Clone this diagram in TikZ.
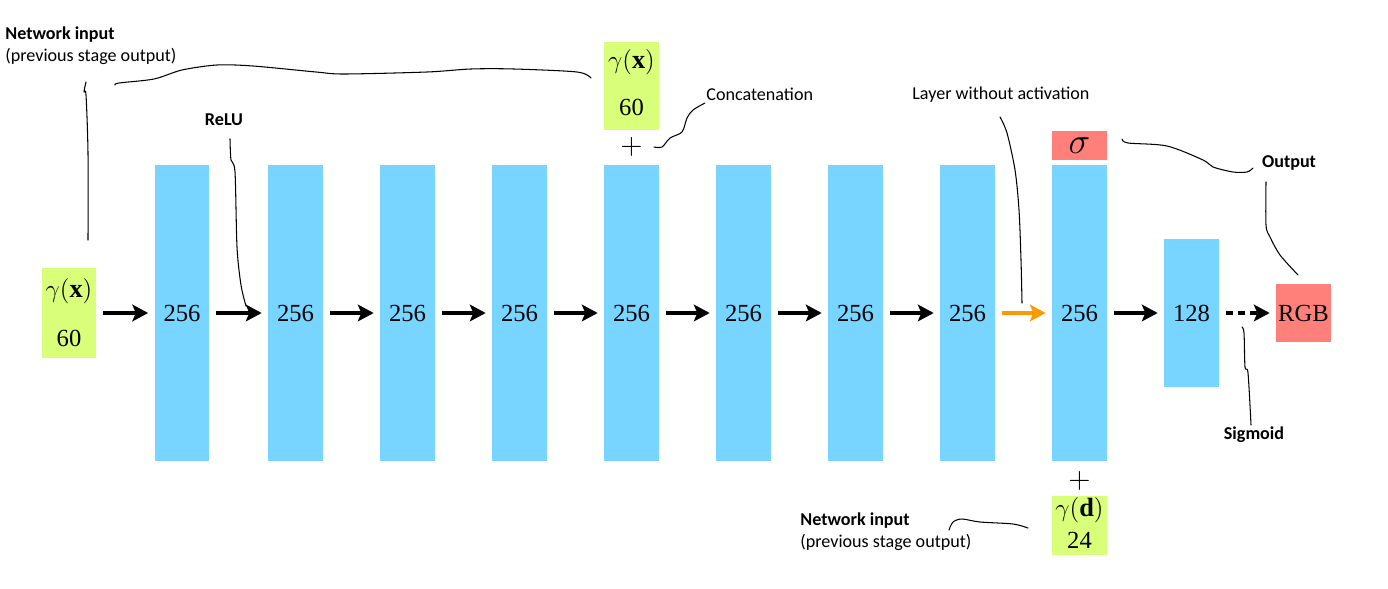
\documentclass[tikz,border=0pt]{standalone}
\usepackage{fontspec}
\setmainfont{Liberation Serif}
\newfontfamily\labfont{Carlito}
\usetikzlibrary{arrows.meta}
\definecolor{barblue}{RGB}{119,213,255}
\definecolor{ingreen}{RGB}{217,255,122}
\definecolor{outred}{RGB}{255,128,122}
\definecolor{actorange}{RGB}{255,153,0}
\begin{document}
\begin{tikzpicture}[x=0.02cm,y=-0.02cm,
  num/.style={font=\fontsize{14}{16}\selectfont,inner sep=0},
  bigmath/.style={font=\fontsize{15}{17}\selectfont,inner sep=0},
  bar/.style={fill=barblue,inner sep=0,minimum width=1.1cm,minimum height=5.92cm,font=\fontsize{14}{16}\selectfont},
  smallbar/.style={bar,minimum height=2.96cm},
  inbox/.style={fill=ingreen,inner sep=0,minimum width=1.1cm},
  outbox/.style={fill=outred,inner sep=0,minimum width=1.1cm,font=\fontsize{14}{16}\selectfont},
  flow/.style={line width=1.9pt,-{Stealth[length=9pt,width=9.5pt,inset=2pt]},shorten <=0.13cm,shorten >=0.12cm},
  noact/.style={flow,draw=actorange},
  sigflow/.style={flow,dash pattern=on 4pt off 3pt},
  lab/.style={font=\labfont\fontsize{10.3}{12.5}\selectfont,inner sep=0,align=left},
  hand/.style={line width=0.6pt,line cap=round,line join=round}]
\useasboundingbox (0,0) rectangle (1388,588);
% input boxes
\node[inbox,minimum height=1.8cm] (gin) at (69,313) {};
\node[bigmath] (ginx) at (69,291) {$\gamma(\mathbf{x})$};
\node[num] (gin60) at (69,338) {60};
\node[inbox,minimum height=1.76cm] (gtop) at (631.5,86) {};
\node[bigmath] (gtopx) at (631.5,62) {$\gamma(\mathbf{x})$};
\node[num] (gtop60) at (631.5,107) {60};
\node[bigmath,font=\fontsize{17}{19}\selectfont] (plusA) at (631.5,147) {$+$};
\node[inbox,minimum height=1.18cm] (gbot) at (1079.5,525.5) {};
\node[bigmath] (gbotd) at (1079.5,510) {$\gamma(\mathbf{d})$};
\node[num] (gbot24) at (1079.5,540) {24};
\node[bigmath,font=\fontsize{17}{19}\selectfont] (plusB) at (1079.5,481) {$+$};
% layers
\node[bar] (b1) at (182,313) {256};
\node[bar] (b2) at (295.5,313) {256};
\node[bar] (b3) at (407.5,313) {256};
\node[bar] (b4) at (519.5,313) {256};
\node[bar] (b5) at (631.5,313) {256};
\node[bar] (b6) at (743.5,313) {256};
\node[bar] (b7) at (855.5,313) {256};
\node[bar] (b8) at (967.5,313) {256};
\node[bar] (b9) at (1079.5,313) {256};
\node[smallbar] (c128) at (1191.5,313) {128};
\node[outbox,minimum height=0.6cm,font=\fontsize{21}{23}\selectfont] (sig) at (1079.5,145.5) {$\sigma$};
\node[outbox,minimum height=1.18cm] (rgb) at (1303.5,313) {RGB};
% connectors
\draw[flow] (gin) -- (b1);
\draw[flow] (b1) -- (b2);
\draw[flow] (b2) -- (b3);
\draw[flow] (b3) -- (b4);
\draw[flow] (b4) -- (b5);
\draw[flow] (b5) -- (b6);
\draw[flow] (b6) -- (b7);
\draw[flow] (b7) -- (b8);
\draw[noact] (b8) -- (b9);
\draw[flow] (b9) -- (c128);
\draw[sigflow] (c128) -- (rgb);
% annotation labels
\node[lab,anchor=west] (lnet) at (5,46) {\textbf{Network input}\\(previous stage output)};
\node[lab] (lrelu) at (224,120) {\textbf{ReLU}};
\node[lab,anchor=west] (lcat) at (706,94) {Concatenation};
\node[lab,anchor=west] (llayer) at (912,95) {Layer without activation};
\node[lab] (lout) at (1289,163) {\textbf{Output}};
\node[lab] (lsig) at (1254,435) {\textbf{Sigmoid}};
\node[lab,anchor=west] (lnet2) at (800,531.5) {\textbf{Network input}\\(previous stage output)};
% hand-drawn pointer lines
\draw[hand] plot[smooth,tension=0.5] coordinates {(86,82) (84,92) (86,95) (88,153) (88,240)};
\draw[hand] plot[smooth,tension=0.5] coordinates {(115,85) (119,83) (154,79) (182,70) (217,65) (253,66) (316,72) (344,74) (427,72) (471,69) (514,69) (577,72) (591,78)};
\draw[hand] plot[smooth,tension=0.5] coordinates {(230,139) (231,160) (235,172) (237,247) (241,285) (246,306)};
\draw[hand] plot[smooth,tension=0.5] coordinates {(654,147) (662,147) (670,138) (682,132) (687,118) (693,110) (705,103)};
\draw[hand] plot[smooth,tension=0.5] coordinates {(1000,117) (1007,133) (1015,170) (1019,210) (1021,260) (1022,303)};
\draw[hand] plot[smooth,tension=0.5] coordinates {(1122,139) (1128,143) (1167,146) (1203,160) (1213,167) (1233,172) (1247,172) (1253,168)};
\draw[hand] plot[smooth,tension=0.5] coordinates {(1266,182) (1266,225) (1270,237) (1280,255) (1298,275)};
\draw[hand] plot[smooth,tension=0.5] coordinates {(1242,327) (1244,333) (1245,367) (1248,373) (1251,425)};
\draw[hand] plot[smooth,tension=0.5] coordinates {(949,530) (953,522) (962,519) (980,522) (1013,524) (1028,528)};
\end{tikzpicture}
\end{document}
